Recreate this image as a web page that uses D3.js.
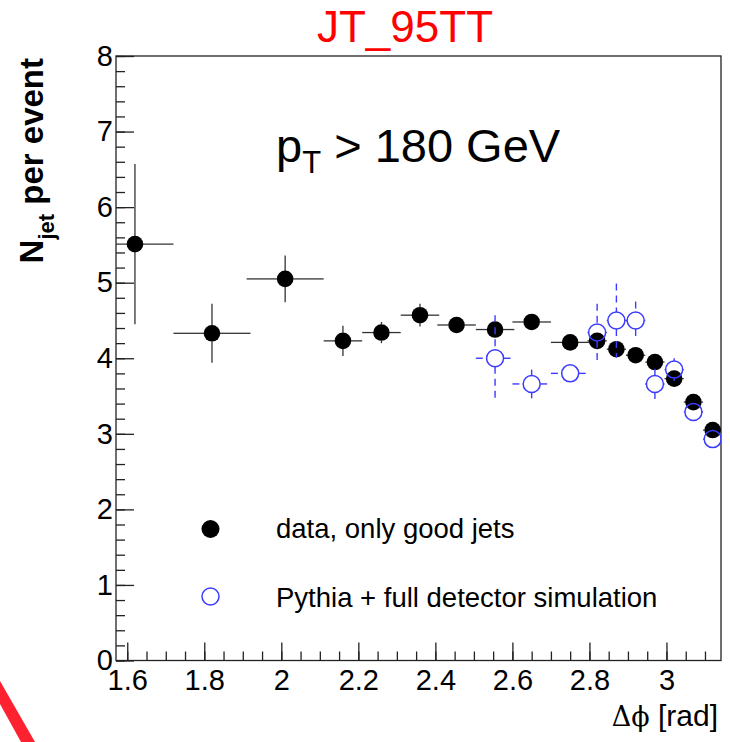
<!DOCTYPE html>
<html>
<head>
<meta charset="utf-8">
<script src="https://cdn.jsdelivr.net/npm/d3@7"></script>
<style>
  body { margin: 0; background: #fff; }
  svg { display: block; font-family: "Liberation Sans", Arial, sans-serif; }
</style>
</head>
<body>
<svg id="chart" width="730" height="742"></svg>
<script>
// data, only good jets
const dataX = [1.62, 1.82, 2.01, 2.16, 2.26, 2.36, 2.455, 2.555, 2.65, 2.75, 2.82, 2.87, 2.92, 2.97, 3.02, 3.07, 3.12];
const dataY = [5.51, 4.33, 5.05, 4.23, 4.34, 4.57, 4.44, 4.38, 4.48, 4.21, 4.23, 4.12, 4.04, 3.95, 3.73, 3.42, 3.05];
const dataYErr = [1.06, 0.39, 0.31, 0.2, 0.14, 0.15, 0.09, 0.09, 0.08, 0.08, 0.08, 0.08, 0.08, 0.08, 0.08, 0.08, 0.08];
const dataXErr = [0.1, 0.1, 0.1, 0.05, 0.05, 0.05, 0.05, 0.05, 0.05, 0.05, 0.025, 0.025, 0.025, 0.025, 0.025, 0.025, 0.025];

// Pythia + full detector simulation
const mcX = [2.555, 2.65, 2.75, 2.82, 2.87, 2.92, 2.97, 3.02, 3.07, 3.12];
const mcY = [4.0, 3.66, 3.8, 4.34, 4.5, 4.5, 3.66, 3.85, 3.29, 2.93];
const mcYErr = [0.57, 0.19, 0.07, 0.38, 0.49, 0.25, 0.2, 0.15, 0.07, 0.07];
const mcXErr = [0.05, 0.05, 0.05, 0.025, 0.025, 0.025, 0.025, 0.025, 0.025, 0.025];

const xTicks = [1.6, 1.8, 2.0, 2.2, 2.4, 2.6, 2.8, 3.0];
const xTickLabels = ["1.6", "1.8", "2", "2.2", "2.4", "2.6", "2.8", "3"];
const yTicks = [0, 1, 2, 3, 4, 5, 6, 7, 8];
const yTickLabels = ["0", "1", "2", "3", "4", "5", "6", "7", "8"];

const svg = d3.select("#chart");
const frame = { left: 116, right: 721, top: 56, bottom: 660.5 };

const x = d3.scaleLinear().domain([Math.PI / 2, Math.PI]).range([frame.left, frame.right]);
const y = d3.scaleLinear().domain([0, 8]).range([frame.bottom, frame.top]);

// red corner decoration
svg.append("path")
  .attr("d", "M0,681 L35,742 L21,742 L0,704 Z")
  .attr("fill", "#fe2230");

// title
svg.append("text")
  .attr("x", 405).attr("y", 42)
  .attr("text-anchor", "middle")
  .attr("font-size", "44px")
  .attr("fill", "#ff0000")
  .text("JT_95TT");

// frame
svg.append("rect")
  .attr("x", frame.left).attr("y", frame.top)
  .attr("width", frame.right - frame.left).attr("height", frame.bottom - frame.top)
  .attr("fill", "none")
  .attr("stroke", "#222")
  .attr("stroke-width", 1.3);

// minor ticks
const xMinor = d3.range(0, 31).map(i => 1.6 + i * 0.05);
const yMinor = d3.range(0, 41).map(i => i * 0.2);

svg.append("g")
  .attr("transform", `translate(0,${frame.bottom})`)
  .call(d3.axisBottom(x).tickValues(xMinor).tickSizeInner(-9).tickSizeOuter(0).tickFormat(""))
  .call(g => g.select(".domain").remove());

svg.append("g")
  .attr("transform", `translate(${frame.left},0)`)
  .call(d3.axisLeft(y).tickValues(yMinor).tickSizeInner(-9).tickSizeOuter(0).tickFormat(""))
  .call(g => g.select(".domain").remove());

// major ticks + labels
const xAxis = svg.append("g")
  .attr("transform", `translate(0,${frame.bottom})`)
  .call(d3.axisBottom(x).tickValues(xTicks).tickSizeInner(-18).tickSizeOuter(0).tickPadding(9)
    .tickFormat((d, i) => xTickLabels[i]));
xAxis.select(".domain").remove();

const yAxis = svg.append("g")
  .attr("transform", `translate(${frame.left},0)`)
  .call(d3.axisLeft(y).tickValues(yTicks).tickSizeInner(-18).tickSizeOuter(0).tickPadding(3)
    .tickFormat((d, i) => yTickLabels[i]));
yAxis.select(".domain").remove();

svg.selectAll(".tick line").attr("stroke", "#222").attr("stroke-width", 1.3);
svg.selectAll(".tick text")
  .attr("font-family", "'Liberation Sans', Arial, sans-serif")
  .attr("font-size", "29px")
  .attr("fill", "#000");

// axis titles
const xt = svg.append("text")
  .attr("x", 718).attr("y", 726)
  .attr("text-anchor", "end")
  .attr("font-size", "30px");
xt.append("tspan").attr("font-family", "'DejaVu Serif', 'Liberation Serif', serif").attr("font-size", "27px").text("Δϕ");
xt.append("tspan").text(" [rad]");

const yt = svg.append("text")
  .attr("transform", "translate(43,58) rotate(-90)")
  .attr("text-anchor", "end")
  .attr("font-weight", "bold")
  .attr("font-size", "33px");
yt.append("tspan").text("N");
yt.append("tspan").attr("font-size", "22px").attr("dy", 11).text("jet");
yt.append("tspan").attr("dy", -11).text("  per event");

// pT label
const pt = svg.append("text")
  .attr("x", 276).attr("y", 162)
  .attr("font-size", "47px");
pt.append("tspan").text("p");
pt.append("tspan").attr("font-size", "31px").attr("dy", 11).text("T");
pt.append("tspan").attr("dy", -11).text(" > 180 GeV");

svg.append("clipPath").attr("id", "clip")
  .append("rect")
  .attr("x", frame.left).attr("y", frame.top)
  .attr("width", frame.right - frame.left).attr("height", frame.bottom - frame.top);
const plot = svg.append("g").attr("clip-path", "url(#clip)");

const dataPts = dataX.map((d, i) => ({ x: d, y: dataY[i], ex: dataXErr[i], ey: dataYErr[i] }));
const mcPts = mcX.map((d, i) => ({ x: d, y: mcY[i], ex: mcXErr[i], ey: mcYErr[i] }));

// error bars stop at the marker edge, ROOT style
function errSegments(pts, r) {
  const segs = [];
  pts.forEach(d => {
    const cx = x(d.x), cy = y(d.y);
    const yTop = y(d.y + d.ey), yBot = y(d.y - d.ey);
    const xL = x(d.x - d.ex), xR = x(d.x + d.ex);
    if (cy - r > yTop) segs.push([cx, yTop, cx, cy - r]);
    if (yBot > cy + r) segs.push([cx, cy + r, cx, yBot]);
    if (cx - r > xL) segs.push([xL, cy, cx - r, cy]);
    if (xR > cx + r) segs.push([cx + r, cy, xR, cy]);
  });
  return segs;
}

plot.append("g").attr("stroke", "#333").attr("stroke-width", 1.3)
  .selectAll("line").data(errSegments(dataPts, 8)).enter().append("line")
  .attr("x1", s => s[0]).attr("y1", s => s[1]).attr("x2", s => s[2]).attr("y2", s => s[3]);

plot.append("g").selectAll("circle").data(dataPts).enter().append("circle")
  .attr("cx", d => x(d.x)).attr("cy", d => y(d.y))
  .attr("r", 8.3)
  .attr("fill", "#000");

// simulation error bars (dashed)
plot.append("g").attr("stroke", "#3c3cff").attr("stroke-width", 1.4)
  .attr("stroke-dasharray", "7,5")
  .selectAll("line").data(errSegments(mcPts, 8.5)).enter().append("line")
  .attr("x1", s => s[0]).attr("y1", s => s[1]).attr("x2", s => s[2]).attr("y2", s => s[3]);

plot.append("g").selectAll("circle").data(mcPts).enter().append("circle")
  .attr("cx", d => x(d.x)).attr("cy", d => y(d.y))
  .attr("r", 8.5)
  .attr("fill", "none")
  .attr("stroke", "#3c3cff")
  .attr("stroke-width", 1.5);

// legend
const legend = svg.append("g");
legend.append("circle").attr("cx", 210.5).attr("cy", 529).attr("r", 9).attr("fill", "#000");
legend.append("text").attr("x", 276).attr("y", 538).attr("font-size", "27.5px").text("data, only good jets");
legend.append("circle").attr("cx", 210.5).attr("cy", 596.5).attr("r", 8.5)
  .attr("fill", "none").attr("stroke", "#3c3cff").attr("stroke-width", 1.5);
legend.append("text").attr("x", 276).attr("y", 606.5).attr("font-size", "27.5px").text("Pythia + full detector simulation");
</script>
</body>
</html>
